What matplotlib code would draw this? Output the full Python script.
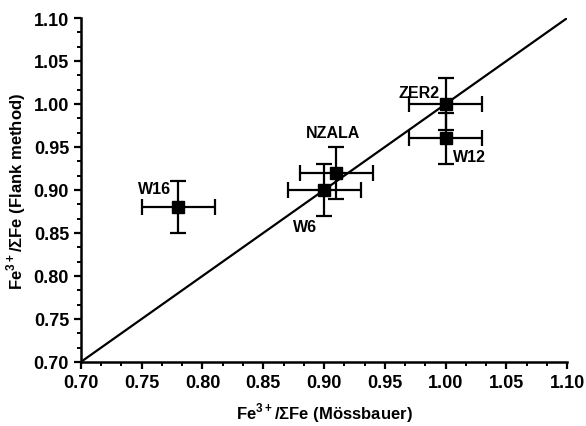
import numpy as np
import matplotlib.pyplot as plt
from matplotlib.ticker import MultipleLocator, AutoMinorLocator

plt.rcParams['font.family'] = ['Liberation Sans', 'DejaVu Sans']
plt.rcParams['font.weight'] = 'bold'
plt.rcParams['mathtext.fontset'] = 'custom'
plt.rcParams['mathtext.rm'] = 'Liberation Sans:bold'
plt.rcParams['mathtext.bf'] = 'Liberation Sans:bold'

# samples: Mossbauer vs flank method
names = ['W16', 'W6', 'NZALA', 'ZER2', 'W12']
moss = [0.78, 0.90, 0.91, 1.00, 1.00]
flank = [0.88, 0.90, 0.92, 1.00, 0.96]
moss_err = [0.03, 0.03, 0.03, 0.03, 0.03]
flank_err = [0.03, 0.03, 0.03, 0.03, 0.03]
# label positions and alignment
lab_x = [0.774, 0.884, 0.907, 0.978, 1.020]
lab_y = [0.902, 0.857, 0.967, 1.013, 0.9395]
lab_ha = ['right', 'center', 'center', 'center', 'center']

fig = plt.figure(figsize=(5.86, 4.27), dpi=100)
ax = fig.add_axes([0.138, 0.150, 0.830, 0.8055])

ax.plot([0.70, 1.10], [0.70, 1.10], color='black', lw=1.6, zorder=1)
ax.errorbar(moss, flank, xerr=moss_err, yerr=flank_err, fmt='s', color='black',
            ms=9, elinewidth=1.6, capsize=5.5, capthick=1.6, zorder=3)
for n, x, y, ha in zip(names, lab_x, lab_y, lab_ha):
    ax.text(x, y, n, ha=ha, va='center', fontsize=11.5, fontweight='bold')

ax.set_xlim(0.70, 1.10)
ax.set_ylim(0.70, 1.10)
ax.xaxis.set_major_locator(MultipleLocator(0.05))
ax.yaxis.set_major_locator(MultipleLocator(0.05))
ax.xaxis.set_minor_locator(AutoMinorLocator(3))
ax.yaxis.set_minor_locator(AutoMinorLocator(3))
ax.xaxis.set_major_formatter(plt.FormatStrFormatter('%.2f'))
ax.yaxis.set_major_formatter(plt.FormatStrFormatter('%.2f'))
ax.tick_params(which='major', direction='out', length=5, width=1.6, labelsize=13)
ax.tick_params(which='minor', direction='out', length=3, width=1.4)
for s in ['top', 'right']:
    ax.spines[s].set_visible(False)
for s in ['left', 'bottom']:
    ax.spines[s].set_linewidth(1.8)

ax.set_xlabel(r'Fe$^{3+}$/ΣFe (Mössbauer)', fontsize=12, fontweight='bold', labelpad=7)
ax.set_ylabel(r'Fe$^{3+}$/ΣFe (Flank method)', fontsize=12, fontweight='bold', labelpad=4)

fig.savefig('out.png', dpi=100)
